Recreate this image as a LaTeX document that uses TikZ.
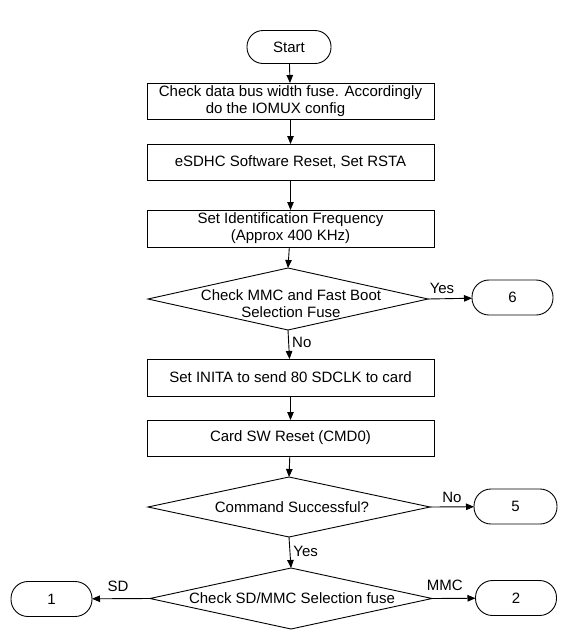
\documentclass[tikz,border=0pt]{standalone}
\usepackage{fontspec}
\setmainfont{Liberation Sans}
\usetikzlibrary{shapes.geometric,arrows.meta}
\begin{document}
\begin{tikzpicture}[x=1pt,y=-1pt,
  every node/.style={font=\fontsize{15}{17}\selectfont},
  term/.style={draw,line width=0.9pt,rounded corners=17pt,minimum width=81pt,minimum height=35pt,inner sep=0pt,outer sep=0pt},
  procbox/.style={draw,line width=0.9pt,minimum width=287pt,minimum height=36pt,inner sep=0pt,outer sep=0pt,align=center},
  decision/.style={draw,line width=0.9pt,diamond,inner sep=0pt,outer sep=0pt},
  lbl/.style={inner sep=0pt},
  flow/.style={line width=0.9pt,-{Triangle[length=8pt,width=6.5pt]}}]
\useasboundingbox (0,0) rectangle (582,638);
\node[term,minimum width=84pt,minimum height=33pt,rounded corners=16pt] (start) at (289,47) {Start};
\node[procbox,align=left] (b1) at (290.5,101) {Check data bus width fuse. Accordingly\\\hspace*{47pt}do the IOMUX config};
\node[procbox] (b2) at (290.5,162) {eSDHC Software Reset, Set RSTA};
\node[procbox,minimum height=37pt] (b3) at (290.5,228.5) {Set Identification Frequency\\(Approx 400 KHz)};
\node[decision,minimum width=280pt,minimum height=62pt] (d1) at (288,299) {};
\node[lbl,align=center] (d1t) at (291,304) {Check MMC and Fast Boot\\Selection Fuse};
\node[term] (t6) at (512.5,297.5) {6};
\node[procbox,minimum height=37pt] (b4) at (290.5,377.5) {Set INITA to send 80 SDCLK to card};
\node[procbox] (b5) at (290.5,438) {Card SW Reset (CMD0)};
\node[decision,minimum width=282pt,minimum height=60pt] (d2) at (289,507) {};
\node[lbl] (d2t) at (292,507) {Command Successful?};
\node[term,minimum width=83pt] (t5) at (515.5,506.5) {5};
\node[decision,minimum width=282pt,minimum height=61pt] (d3) at (291,598.5) {};
\node[lbl] (d3t) at (292,598) {Check SD/MMC Selection fuse};
\node[term] (t1) at (51.5,599) {1};
\node[term] (t2) at (516,598) {2};
\draw[flow] (start) -- (b1);
\draw[flow] (b1) -- (b2);
\draw[flow] (b2) -- (b3);
\draw[flow] (b3) -- (d1.north);
\draw[flow] (d1.south) -- node[lbl,right=3pt,yshift=2pt] (no1) {No} (b4);
\draw[flow] (d1.east) -- node[lbl,above=5pt,xshift=-8pt] (yes1) {Yes} (t6);
\draw[flow] (b4) -- (b5);
\draw[flow] (b5) -- (d2.north);
\draw[flow] (d2.east) -- node[lbl,above=4pt] (no2) {No} (t5);
\draw[flow] (d2.south) -- node[lbl,right=3pt,yshift=1pt] (yes2) {Yes} (d3.north);
\draw[flow] (d3.west) -- node[lbl,above=7pt,xshift=-3pt] (sd) {SD} (t1);
\draw[flow] (d3.east) -- node[lbl,above=7pt,xshift=-9pt] (mmc) {MMC} (t2);
\end{tikzpicture}
\end{document}
